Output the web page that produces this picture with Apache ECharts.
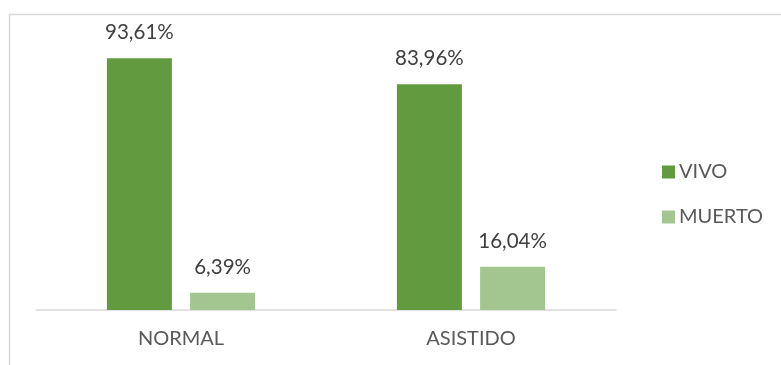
<!DOCTYPE html>
<html>
<head>
<meta charset="utf-8">
<script src="https://cdn.jsdelivr.net/npm/echarts@6/dist/echarts.min.js"></script>
<style>
  html, body { margin: 0; padding: 0; background: #fff; }
  #chart { width: 781px; height: 365px; }
</style>
</head>
<body>
<div id="chart"></div>
<script>
// Tipo de parto y desenlace (% sobre el total de cada grupo)
const categories = ['NORMAL', 'ASISTIDO'];
const seriesNames = ['VIVO', 'MUERTO'];
const vivo = [93.61, 83.96];
const muerto = [6.39, 16.04];

const FONT = 'Lato, "Open Sans", sans-serif';
const fmt = v => v.toFixed(2).replace('.', ',') + '%';

const chart = echarts.init(document.getElementById('chart'), null, { renderer: 'canvas' });

const labelStyle = {
  show: true,
  position: 'top',
  distance: 15,
  color: '#404040',
  fontFamily: FONT,
  fontSize: 20.5,
  formatter: p => fmt(p.value)
};

chart.setOption({
  animation: false,
  backgroundColor: '#ffffff',
  graphic: [{
    type: 'rect',
    left: 7,
    top: 12,
    shape: { width: 820, height: 400 },
    style: { fill: 'none', stroke: '#D9D9D9', lineWidth: 1.5 },
    silent: true
  }],
  grid: { left: 36, right: 165, top: 41, bottom: 55 },
  legend: {
    orient: 'vertical',
    left: 657,
    top: 157,
    itemWidth: 13,
    itemHeight: 13,
    itemGap: 25,
    icon: 'rect',
    textStyle: { color: '#595959', fontFamily: FONT, fontSize: 20, padding: [0, 0, 0, -1] },
    data: seriesNames
  },
  xAxis: {
    type: 'category',
    data: categories,
    axisLine: { lineStyle: { color: '#D9D9D9', width: 1.5 } },
    axisTick: { show: false },
    axisLabel: { color: '#595959', fontFamily: FONT, fontSize: 20, margin: 19 }
  },
  yAxis: {
    type: 'value',
    min: 0,
    max: 100,
    show: false,
    splitLine: { show: false }
  },
  series: [
    {
      name: seriesNames[0],
      type: 'bar',
      data: vivo,
      barWidth: 65,
      barGap: '28%',
      itemStyle: { color: '#629B3F' },
      label: labelStyle
    },
    {
      name: seriesNames[1],
      type: 'bar',
      data: muerto,
      barWidth: 65,
      itemStyle: { color: '#A3C691' },
      label: labelStyle
    }
  ]
});
</script>
</body>
</html>
